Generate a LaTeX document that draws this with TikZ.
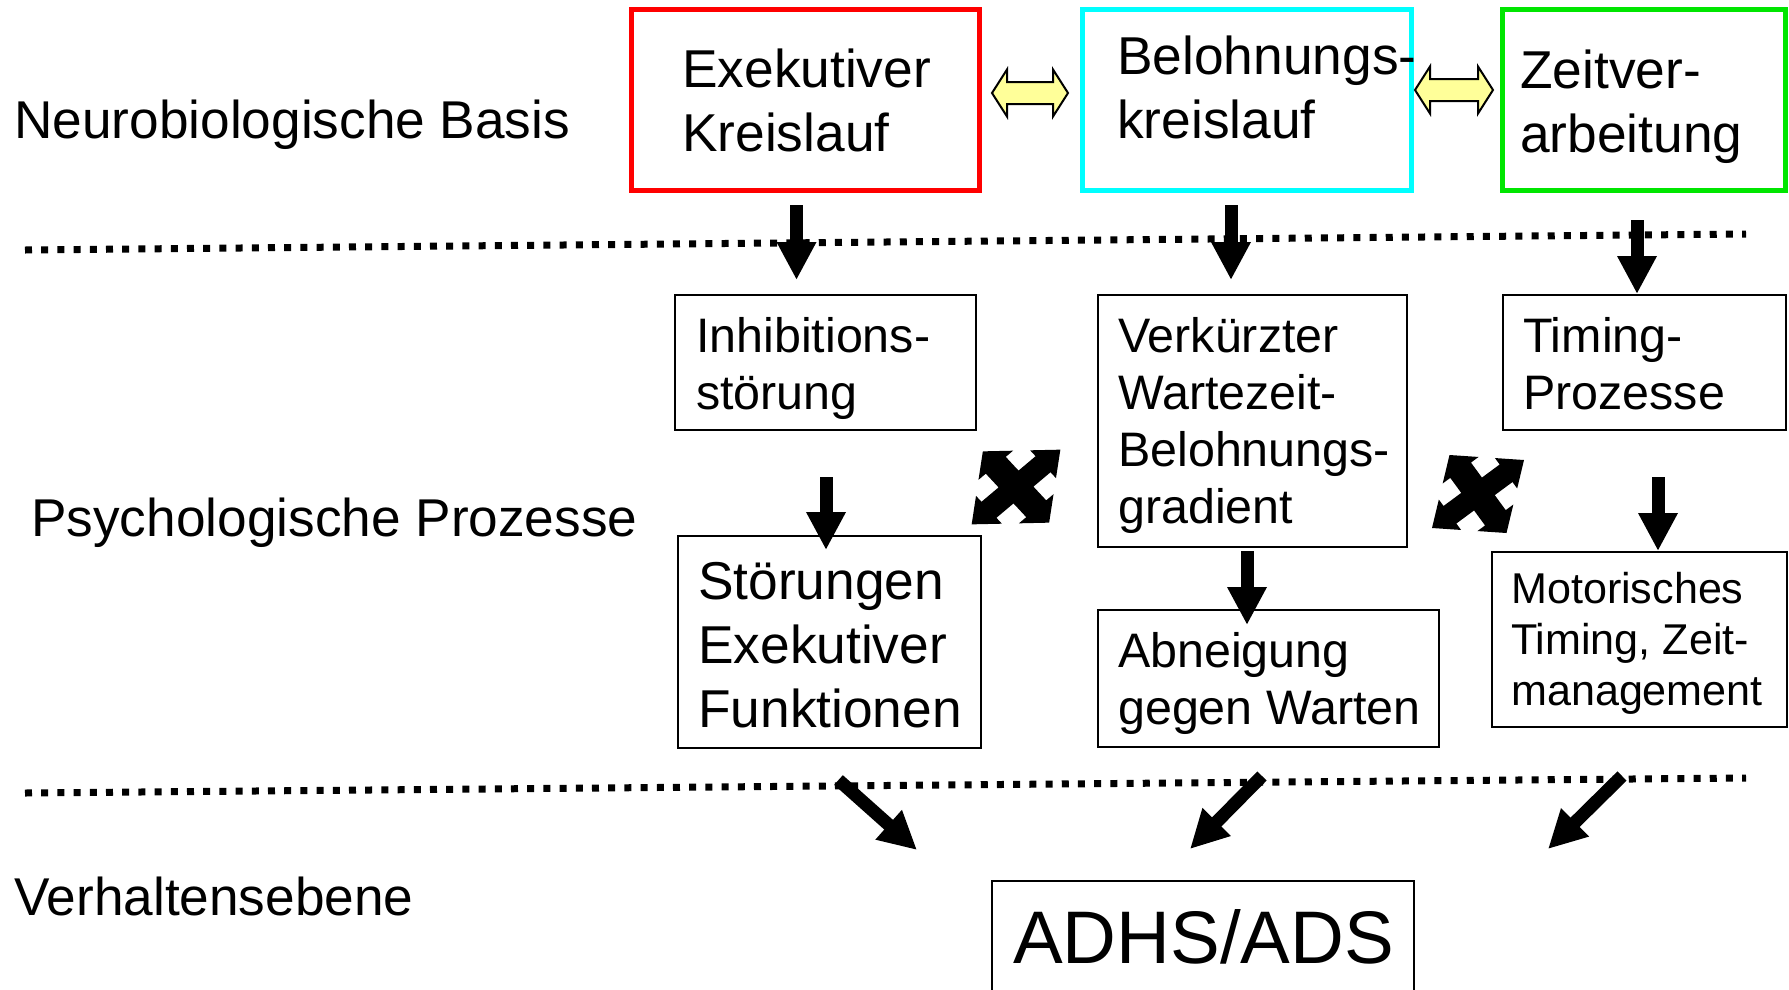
\documentclass[tikz,border=0pt]{standalone}
\usepackage{fontspec}
\setmainfont{Liberation Sans}
\usetikzlibrary{arrows.meta,calc}
\definecolor{grn}{RGB}{0,230,0}
\definecolor{cyn}{RGB}{0,255,255}
\definecolor{rd}{RGB}{255,0,0}
\definecolor{ylw}{RGB}{255,255,153}
\newcommand\lns[1]{\begin{tabular}[t]{@{}l@{}}#1\end{tabular}}
\newcommand\crossarrow[1]{%
  \begin{scope}[cm={#1}]
    \fill[black] (1,1) -- (1,0.22) -- (0.835,0.385) -- (0.45,0) -- (0.835,-0.385) -- (1,-0.22)
      -- (1,-1) -- (0.22,-1) -- (0.385,-0.835) -- (0,-0.45) -- (-0.385,-0.835) -- (-0.22,-1)
      -- (-1,-1) -- (-1,-0.22) -- (-0.835,-0.385) -- (-0.45,0) -- (-0.835,0.385) -- (-1,0.22)
      -- (-1,1) -- (-0.22,1) -- (-0.385,0.835) -- (0,0.45) -- (0.385,0.835) -- (0.22,1) -- cycle;
  \end{scope}}
\newcommand\dblarr[2]{%
  \filldraw[yarr] (#1) -- ++(15,-23.5) -- ++(0,12.5) -- ++({#2-30},0) -- ++(0,-12.5)
    -- ++(15,23.5) -- ++(-15,23.5) -- ++(0,-12.5) -- ++({30-#2},0) -- ++(0,12.5) -- cycle;}
\begin{document}
\begin{tikzpicture}[x=1pt,y=-1pt,
  lbl/.style={inner sep=0pt, anchor=base west, font=\fontsize{53.2}{64}\selectfont},
  txtA/.style={inner sep=0pt, anchor=base west, font=\fontsize{53.3}{64}\selectfont},
  txtB/.style={inner sep=0pt, anchor=base west, font=\fontsize{48.4}{57}\selectfont},
  txtC/.style={inner sep=0pt, anchor=base west, font=\fontsize{43.1}{51}\selectfont},
  txtD/.style={inner sep=0pt, anchor=base west, font=\fontsize{74.5}{89}\selectfont},
  box/.style={draw=black, outer sep=0pt, inner sep=0pt, anchor=north west, line width=2pt},
  cbox/.style={box, line width=5pt},
  bigarrow/.style={line width=13pt, -{Triangle[width=37pt,length=38pt]}},
  dots/.style={line width=7pt, dash pattern=on 7pt off 9.2pt},
  yarr/.style={fill=ylw, draw=black, line width=2pt, line join=miter}]
\useasboundingbox (0,0) rectangle (1789,989);
\fill[white] (0,0) rectangle (1789,989);

% dotted separators
\coordinate (d1a) at (25,250);
\coordinate (d1b) at (1746,234);
\coordinate (d2a) at (25,793);
\coordinate (d2b) at (1746,778);
\draw[dots] (d1a) -- (d1b);
\draw[dots] (d2a) -- (d2b);

% boxes
\node[cbox, draw=rd, minimum width=348pt, minimum height=181pt] (exek) at (631,9.5) {};
\node[cbox, draw=cyn, minimum width=329pt, minimum height=181pt] (beloh) at (1082.5,9.5) {};
\node[cbox, draw=grn, minimum width=283pt, minimum height=181pt] (zeit) at (1502.5,9.5) {};
\node[box, minimum width=301pt, minimum height=135pt] (inhib) at (675,295) {};
\node[box, minimum width=309pt, minimum height=252pt] (verk) at (1098,295) {};
\node[box, minimum width=283pt, minimum height=135pt] (timing) at (1503,295) {};
\node[box, minimum width=303pt, minimum height=212pt] (stoer) at (678,536) {};
\node[box, minimum width=341pt, minimum height=137pt] (abn) at (1098,610) {};
\node[box, minimum width=295pt, minimum height=175pt] (motor) at (1492,552) {};
\node[box, minimum width=422pt, minimum height=130pt] (adhs) at (992,881) {};

% texts
\node[lbl] (neuro) at (14,138) {Neurobiologische Basis};
\node[lbl] (psych) at (31,536) {Psychologische Prozesse};
\node[lbl] (verh) at (14,915) {Verhaltensebene};
\node[txtA] (exek-t) at (682,87) {\lns{Exekutiver\\Kreislauf}};
\node[txtA] (beloh-t) at (1117,74) {\lns{Belohnungs-\\kreislauf}};
\node[txtA] (zeit-t) at (1520,88) {\lns{Zeitver-\\arbeitung}};
\node[txtB] (inhib-t) at (696,352) {\lns{Inhibitions-\\störung}};
\node[txtB] (verk-t) at (1118,352) {\lns{Verkürzter\\Wartezeit-\\Belohnungs-\\gradient}};
\node[txtB] (timing-t) at (1523,352) {\lns{Timing-\\Prozesse}};
\node[txtA] (stoer-t) at (698,599) {\lns{Störungen\\Exekutiver\\Funktionen}};
\node[txtB] (abn-t) at (1118,667) {\lns{Abneigung\\gegen Warten}};
\node[txtC] (motor-t) at (1511,603) {\lns{Motorisches\\Timing, Zeit-\\management}};
\node[txtD] (adhs-t) at (1013,963) {ADHS/ADS};

% yellow double arrows
\dblarr{$(exek.east)+(13,-7)$}{76}
\dblarr{$(beloh.east)+(3.5,-10)$}{78}

% down arrows
\draw[bigarrow] ($(exek.south)+(-8.5,14.5)$) -- ($(inhib.north)+(-29,-15)$);
\draw[bigarrow] ($(beloh.south)+(-16,14.5)$) -- ($(verk.north)+(-21.5,-15)$);
\draw[bigarrow] ($(zeit.south)+(-7,29.5)$) -- ($(timing.north)+(-7.5,-1)$);
\draw[bigarrow] ($(inhib.south)+(0.5,47)$) -- ($(stoer.north)+(-3.5,14)$);
\draw[bigarrow] ($(verk.south)+(-5.5,4)$) -- ($(abn.north)+(-21.5,15)$);
\draw[bigarrow] ($(timing.south)+(13.5,47)$) -- ($(motor.north)+(18.5,-1)$);

% diagonal arrows to ADHS
\draw[bigarrow] ($(stoer.south)+(9,32)$) -- ($(adhs.north west)+(-75,-31)$);
\draw[bigarrow] ($(abn.south)+(-6.5,29)$) -- ($(adhs.north)+(-13,-32)$);
\draw[bigarrow] ($(motor.south)+(-17.5,49)$) -- ($(adhs.north east)+(134,-32)$);

% cross arrows
\crossarrow{38.75,0.85,-5.6,-36.5,(1016,487)}
\crossarrow{37.25,-2.5,-8.75,-36.5,(1478,494)}
\end{tikzpicture}
\end{document}
